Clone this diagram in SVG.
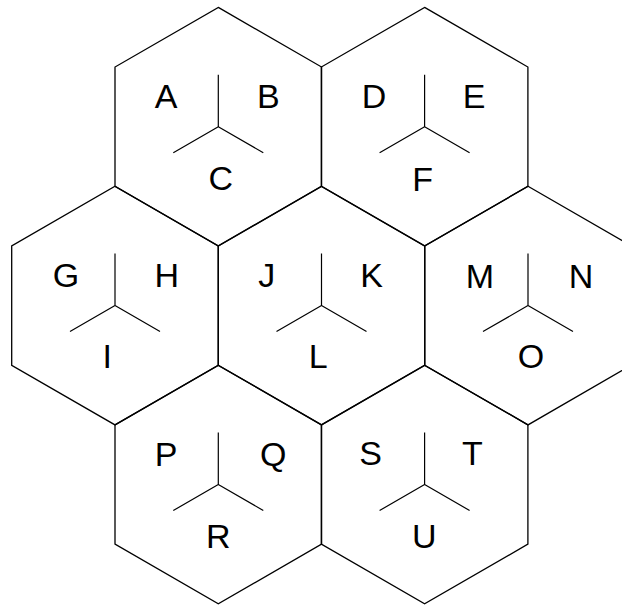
<svg xmlns="http://www.w3.org/2000/svg" width="622" height="606" viewBox="0 0 622 606">
<style>
.hex{fill:none;stroke:#000;stroke-width:1.3;stroke-linejoin:miter}
.y{fill:none;stroke:#000;stroke-width:1.2}
text{font-family:"Liberation Sans",Arial,sans-serif;font-size:34px;fill:#000;text-anchor:middle}
</style>
<defs>
<polygon id="hexshape" class="hex" points="0,-119.3 103.3,-59.65 103.3,59.65 0,119.3 -103.3,59.65 -103.3,-59.65"/>
<path id="yshape" class="y" d="M0,0 V-52 M0,0 L-45,26 M0,0 L45,26"/>
</defs>
<rect width="622" height="606" fill="#fff"/>
<g id="hex-ABC">
<use href="#hexshape" x="218.3" y="126.7"/>
<use href="#yshape" x="218.3" y="126.7"/>
<text x="166" y="108.3">A</text>
<text x="268.3" y="108.3">B</text>
<text x="220.7" y="190">C</text>
</g>
<g id="hex-DEF">
<use href="#hexshape" x="424.6" y="126.7"/>
<use href="#yshape" x="424.6" y="126.7"/>
<text x="374" y="108.3">D</text>
<text x="474" y="108.3">E</text>
<text x="422.7" y="190.5">F</text>
</g>
<g id="hex-GHI">
<use href="#hexshape" x="115" y="305.6"/>
<use href="#yshape" x="115" y="305.6"/>
<text x="66" y="287.3">G</text>
<text x="166.7" y="287.3">H</text>
<text x="107.3" y="368.3">I</text>
</g>
<g id="hex-JKL">
<use href="#hexshape" x="321.5" y="305.6"/>
<use href="#yshape" x="321.5" y="305.6"/>
<text x="266.7" y="286.7">J</text>
<text x="371.7" y="286.7">K</text>
<text x="318.3" y="368.3">L</text>
</g>
<g id="hex-MNO">
<use href="#hexshape" x="528" y="305.6"/>
<use href="#yshape" x="528" y="305.6"/>
<text x="480" y="288.3">M</text>
<text x="581" y="288.3">N</text>
<text x="531" y="368.3">O</text>
</g>
<g id="hex-PQR">
<use href="#hexshape" x="218.3" y="484.5"/>
<use href="#yshape" x="218.3" y="484.5"/>
<text x="166" y="466">P</text>
<text x="273.3" y="466">Q</text>
<text x="218.3" y="548.3">R</text>
</g>
<g id="hex-STU">
<use href="#hexshape" x="424.6" y="484.5"/>
<use href="#yshape" x="424.6" y="484.5"/>
<text x="370.7" y="465">S</text>
<text x="472.3" y="465">T</text>
<text x="424.3" y="548.3">U</text>
</g>
<g id="connectors"/>
</svg>
